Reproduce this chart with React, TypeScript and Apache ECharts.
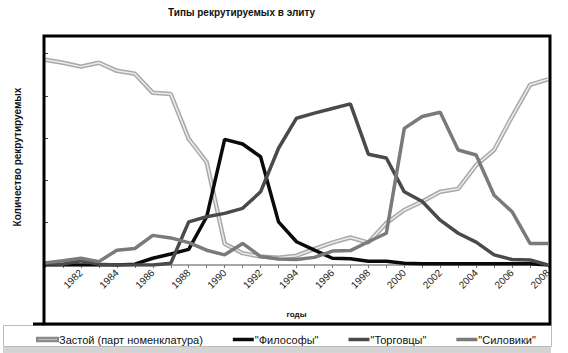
import React, { useEffect, useRef } from "react";
import * as echarts from "echarts";

const years = [
  "1980", "1981", "1982", "1983", "1984", "1985", "1986", "1987", "1988", "1989",
  "1990", "1991", "1992", "1993", "1994", "1995", "1996", "1997", "1998", "1999",
  "2000", "2001", "2002", "2003", "2004", "2005", "2006", "2007", "2008",
];

const zastoy = [
  48.5, 47.8, 46.9, 47.8, 45.9, 45.2, 40.7, 40.4, 29.8, 24.3,
  5.0, 2.8, 2.0, 1.7, 2.2, 3.8, 5.3, 6.5, 5.3, 9.9,
  13.0, 15.0, 17.3, 18.0, 23.6, 27.2, 35.1, 42.6, 43.9,
];

const filosofy = [
  0, 0, 0, 0, 0, 0.2, 1.6, 2.6, 3.7, 11.4,
  29.7, 28.6, 25.6, 10.2, 5.5, 3.5, 1.6, 1.5, 0.9, 0.9,
  0.4, 0.3, 0.3, 0.3, 0.3, 0.3, 0.3, 0.3, 0,
];

const torgovtsy = [
  0.3, 0.2, 1.0, 0.2, 0, 0, 0, 0.4, 10.2, 11.4,
  12.2, 13.4, 17.3, 27.6, 34.7, 35.9, 37.0, 38.1, 26.2, 25.3,
  17.3, 15.0, 10.6, 7.5, 5.4, 2.4, 1.3, 1.2, 0,
];

const siloviki = [
  0.5, 1.0, 1.6, 0.8, 3.5, 3.9, 7.0, 6.4, 5.3, 3.5,
  2.4, 5.1, 2.0, 1.4, 1.3, 1.8, 3.3, 3.4, 5.5, 7.5,
  32.3, 35.1, 36.1, 27.2, 26.0, 16.5, 12.6, 5.1, 5.1,
];

const seriesNames = [
  "Застой (парт номенклатура)",
  "\"Философы\"",
  "\"Торговцы\"",
  "\"Силовики\"",
];

const FONT = "'Liberation Sans', Arial, sans-serif";

export default function App() {
  const ref = useRef<HTMLDivElement>(null);

  useEffect(() => {
    if (!ref.current) return;
    const chart = echarts.init(ref.current, undefined, { renderer: "svg" });
    chart.setOption({
      animation: false,
      backgroundColor: "#ffffff",
      textStyle: { fontFamily: FONT },
      title: {
        text: "Типы рекрутируемых в элиту",
        left: 163,
        top: 2,
        textStyle: { fontSize: 10, fontWeight: "bold", color: "#111", fontFamily: FONT },
      },
      grid: { left: 45, right: 20, top: 53.5, bottom: 88, containLabel: false },
      legend: {
        data: seriesNames,
        left: 31,
        top: 329,
        icon: "rect",
        itemWidth: 21,
        itemHeight: 3.5,
        itemGap: 30,
        textStyle: { fontSize: 11, color: "#111", fontFamily: FONT, padding: [0, 0, 0, -4] },
      },
      xAxis: {
        type: "category",
        data: years,
        boundaryGap: false,
        name: "годы",
        nameLocation: "middle",
        nameGap: 45,
        nameTextStyle: { fontSize: 8, fontWeight: "bold", color: "#111", fontFamily: FONT },
        axisLine: { show: true, lineStyle: { color: "#8a8a8a", width: 1.5 } },
        axisTick: { show: true, interval: 0, length: 3, lineStyle: { color: "#777" } },
        axisLabel: {
          interval: (idx: number) => idx > 0 && idx % 2 === 0,
          rotate: 45,
          fontSize: 10,
          color: "#222",
          margin: 6,
          fontFamily: FONT,
        },
        splitLine: { show: false },
      },
      yAxis: {
        type: "value",
        min: 0,
        max: 50,
        interval: 10,
        axisLine: { show: false },
        axisTick: { show: true, inside: true, length: 3, lineStyle: { color: "#444" } },
        axisLabel: { show: false },
        splitLine: { show: false },
      },
      series: [
        {
          name: seriesNames[0],
          type: "line",
          data: zastoy,
          symbol: "none",
          lineStyle: { color: "#a9a9a9", width: 4.5 },
          itemStyle: { color: "#b5b5b5", borderColor: "#888", borderWidth: 0.5 },
          z: 2,
        },
        {
          name: "zastoy-inner",
          type: "line",
          data: zastoy,
          symbol: "none",
          lineStyle: { color: "#ececec", width: 1.5 },
          itemStyle: { color: "#ececec" },
          z: 3,
        },
        {
          name: seriesNames[1],
          type: "line",
          data: filosofy,
          symbol: "none",
          lineStyle: { color: "#0a0a0a", width: 3.5 },
          itemStyle: { color: "#0a0a0a" },
          z: 4,
        },
        {
          name: seriesNames[2],
          type: "line",
          data: torgovtsy,
          symbol: "none",
          lineStyle: { color: "#4a4a4a", width: 3.5 },
          itemStyle: { color: "#4a4a4a" },
          z: 4,
        },
        {
          name: seriesNames[3],
          type: "line",
          data: siloviki,
          symbol: "none",
          lineStyle: { color: "#7a7a7a", width: 3.5 },
          itemStyle: { color: "#7a7a7a" },
          z: 4,
        },
      ],
      graphic: [
        {
          type: "rect",
          shape: { x: 44, y: 36, width: 506, height: 288 },
          style: { fill: "none", stroke: "#000", lineWidth: 3 },
          z: 10,
        },
        {
          type: "line",
          shape: { x1: 33, y1: 324, x2: 44, y2: 324 },
          style: { stroke: "#000", lineWidth: 3 },
          z: 10,
        },
        {
          type: "rect",
          shape: { x: 3.5, y: 325.5, width: 548, height: 21 },
          style: { fill: "none", stroke: "#bbbbbb", lineWidth: 1 },
          z: 1,
        },
        {
          type: "rect",
          shape: { x: 3, y: 347, width: 548, height: 6 },
          style: { fill: "#d4d4d4" },
          z: 1,
        },
        {
          type: "text",
          x: 17,
          y: 157,
          rotation: Math.PI / 2,
          style: {
            text: "Количество рекрутируемых",
            fontSize: 10,
            fontWeight: "bold",
            fill: "#111",
            fontFamily: FONT,
            align: "center",
            verticalAlign: "middle",
          },
          z: 10,
        },
      ],
    });
    return () => chart.dispose();
  }, []);

  return <div ref={ref} style={{ width: 568, height: 353, position: "absolute", left: 0, top: 0 }} />;
}
